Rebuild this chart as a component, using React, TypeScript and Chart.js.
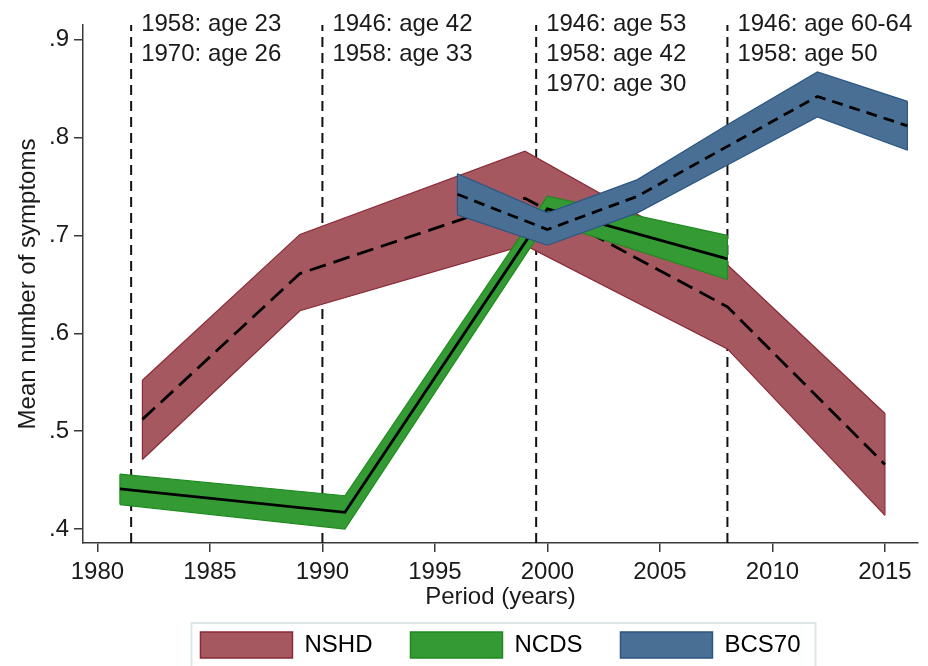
import React, { useEffect, useRef } from 'react';
import { Chart, registerables } from 'chart.js';

Chart.register(...registerables);

// ---------- data ----------
const xTicks = [1980, 1985, 1990, 1995, 2000, 2005, 2010, 2015];
const yTicks = [0.4, 0.5, 0.6, 0.7, 0.8, 0.9];
const xRange = [1979.36, 2016.47];
const yRange = [0.3857, 0.915];

const cohortNames = ['NSHD', 'NCDS', 'BCS70'];

const nshdYears = [1982, 1989, 1999, 2008, 2015];
const nshdMean = [0.512, 0.661, 0.738, 0.627, 0.466];
const nshdLower = [0.471, 0.623, 0.69, 0.584, 0.414];
const nshdUpper = [0.552, 0.701, 0.786, 0.67, 0.518];

const ncdsYears = [1981, 1991, 2000, 2008];
const ncdsMean = [0.441, 0.417, 0.727, 0.676];
const ncdsLower = [0.425, 0.4, 0.714, 0.655];
const ncdsUpper = [0.456, 0.434, 0.74, 0.7];

const bcsYears = [1996, 2000, 2004, 2008, 2012, 2016];
const bcsMean = [0.742, 0.706, 0.74, 0.791, 0.842, 0.812];
const bcsLower = [0.721, 0.69, 0.723, 0.772, 0.821, 0.787];
const bcsUpper = [0.763, 0.723, 0.757, 0.813, 0.867, 0.837];

const markerYears = [1981.5, 1990, 1999.5, 2008];
const markerLabels = [
  ['1958: age 23', '1970: age 26'],
  ['1946: age 42', '1958: age 33'],
  ['1946: age 53', '1958: age 42', '1970: age 30'],
  ['1946: age 60-64', '1958: age 50'],
];

const xTitle = 'Period (years)';
const yTitle = 'Mean number of symptoms';

// ---------- styles ----------
const FONT = '"Liberation Sans", Arial, Helvetica, sans-serif';
const TEXT = '#1a1a1a';
const AXIS = '#3a3a3a';
const fills = ['#a5585f', '#349a34', '#4a6f95'];
const edges = ['#8a2a36', '#1f8a1f', '#2b5683'];
const dashes: number[][] = [[17, 8], [], [11, 7]];

const toPoints = (xs: number[], ys: number[]) => xs.map((x, i) => ({ x, y: ys[i] }));

function bandSets(i: number, years: number[], lower: number[], mean: number[], upper: number[]) {
  const base = (3 - i) * 10;
  return [
    {
      label: cohortNames[i] + ' upper',
      data: toPoints(years, upper),
      borderColor: edges[i],
      borderWidth: 1.2,
      backgroundColor: fills[i],
      fill: '+1',
      pointRadius: 0,
      tension: 0,
      order: base + 2,
    },
    {
      label: cohortNames[i] + ' lower',
      data: toPoints(years, lower),
      borderColor: edges[i],
      borderWidth: 1.2,
      fill: false,
      pointRadius: 0,
      tension: 0,
      order: base + 1,
    },
    {
      label: cohortNames[i],
      data: toPoints(years, mean),
      borderColor: '#000',
      borderWidth: 2.8,
      borderDash: dashes[i],
      fill: false,
      pointRadius: 0,
      tension: 0,
      order: base,
    },
  ];
}

const annotationPlugin = {
  id: 'annotations',
  afterLayout(chart: any) {
    const lg = chart.legend;
    const ca = chart.chartArea;
    if (lg && ca) {
      lg.left = ca.left;
      lg.right = ca.right;
      lg.width = ca.right - ca.left;
    }
  },
  beforeDatasetsDraw(chart: any) {
    const { ctx, chartArea, scales } = chart;
    ctx.save();
    ctx.strokeStyle = '#111';
    ctx.lineWidth = 2;
    ctx.setLineDash([10, 6]);
    markerYears.forEach((yr) => {
      const x = scales.x.getPixelForValue(yr);
      ctx.beginPath();
      ctx.moveTo(x, chartArea.bottom);
      ctx.lineTo(x, chartArea.top);
      ctx.stroke();
    });
    ctx.setLineDash([]);
    ctx.fillStyle = TEXT;
    ctx.font = '24px ' + FONT;
    ctx.textBaseline = 'alphabetic';
    ctx.textAlign = 'left';
    markerYears.forEach((yr, i) => {
      const x = scales.x.getPixelForValue(yr) + 10;
      markerLabels[i].forEach((t, j) => ctx.fillText(t, x, chartArea.top + 6 + j * 30));
    });
    ctx.restore();
  },
  afterDatasetDraw(chart: any, args: any) {
    const idx = args.index;
    if (idx % 3 !== 0) return;
    const hi = chart.getDatasetMeta(idx).data;
    const lo = chart.getDatasetMeta(idx + 1).data;
    if (!hi.length || !lo.length) return;
    const { ctx } = chart;
    ctx.save();
    ctx.strokeStyle = edges[idx / 3];
    ctx.lineWidth = 1.2;
    [0, hi.length - 1].forEach((k) => {
      ctx.beginPath();
      ctx.moveTo(hi[k].x, hi[k].y);
      ctx.lineTo(lo[k].x, lo[k].y);
      ctx.stroke();
    });
    ctx.restore();
  },
  afterDraw(chart: any) {
    const lg = chart.legend;
    if (!lg || !lg.legendHitBoxes || !lg.legendHitBoxes.length) return;
    const boxes = lg.legendHitBoxes;
    const { ctx } = chart;
    const first = boxes[0];
    const last = boxes[boxes.length - 1];
    ctx.save();
    ctx.strokeStyle = '#dde7e7';
    ctx.lineWidth = 2;
    const left = first.left - 9;
    const right = last.left + last.width + 15;
    const top = first.top - 9;
    ctx.strokeRect(left, top, right - left, chart.height + 10 - top);
    ctx.restore();
  },
};

export default function App() {
  const ref = useRef<HTMLCanvasElement | null>(null);

  useEffect(() => {
    if (!ref.current) return;
    Chart.defaults.font.family = FONT;
    const datasets = [
      ...bandSets(0, nshdYears, nshdLower, nshdMean, nshdUpper),
      ...bandSets(1, ncdsYears, ncdsLower, ncdsMean, ncdsUpper),
      ...bandSets(2, bcsYears, bcsLower, bcsMean, bcsUpper),
    ];
    const chart = new Chart(ref.current, {
      type: 'line',
      data: { datasets: datasets as any },
      plugins: [annotationPlugin],
      options: {
        animation: false,
        responsive: false,
        devicePixelRatio: 1,
        layout: { padding: { top: 25, right: 10, bottom: -2, left: 0 } },
        plugins: {
          tooltip: { enabled: false },
          legend: {
            position: 'bottom',
            onClick: () => {},
            labels: {
              font: { size: 24, family: FONT },
              color: TEXT,
              boxWidth: 92,
              boxHeight: 26,
              padding: 38,
              generateLabels: () =>
                cohortNames.map((n, i) => ({
                  text: n,
                  fillStyle: fills[i],
                  strokeStyle: edges[i],
                  lineWidth: 1.5,
                  hidden: false,
                  datasetIndex: i * 3,
                })),
            },
          },
        },
        scales: {
          x: {
            type: 'linear',
            min: xRange[0],
            max: xRange[1],
            afterBuildTicks: (s: any) => {
              s.ticks = xTicks.map((v) => ({ value: v }));
            },
            afterFit: (s: any) => {
              s.height = 51;
            },
            ticks: {
              font: { size: 24, family: FONT },
              color: TEXT,
              padding: 6,
              maxRotation: 0,
              autoSkip: false,
              callback: (v: any) => String(v),
            },
            grid: { drawOnChartArea: false, drawTicks: true, tickLength: 9, color: AXIS, lineWidth: 1.5 },
            border: { display: true, color: AXIS, width: 1.5 },
            title: {
              display: true,
              text: xTitle,
              font: { size: 24, family: FONT },
              color: TEXT,
              padding: { top: 0, bottom: -18 },
            },
          },
          y: {
            type: 'linear',
            min: yRange[0],
            max: yRange[1],
            afterBuildTicks: (s: any) => {
              s.ticks = yTicks.map((v) => ({ value: v }));
            },
            afterFit: (s: any) => {
              s.width = 83;
            },
            ticks: {
              font: { size: 24, family: FONT },
              color: TEXT,
              padding: 5,
              autoSkip: false,
              callback: (v: any) => Number(v).toFixed(1).replace(/^0/, ''),
            },
            grid: { drawOnChartArea: false, drawTicks: true, tickLength: 9, color: AXIS, lineWidth: 1.5 },
            border: { display: true, color: AXIS, width: 1.5 },
            title: {
              display: true,
              text: yTitle,
              font: { size: 24, family: FONT },
              color: TEXT,
              padding: { top: 14, bottom: 0 },
            },
          },
        },
      } as any,
    });
    return () => chart.destroy();
  }, []);

  return (
    <div style={{ position: 'fixed', left: 0, top: 0, width: 928, height: 666, background: '#fff' }}>
      <canvas ref={ref} width={928} height={666} />
    </div>
  );
}
